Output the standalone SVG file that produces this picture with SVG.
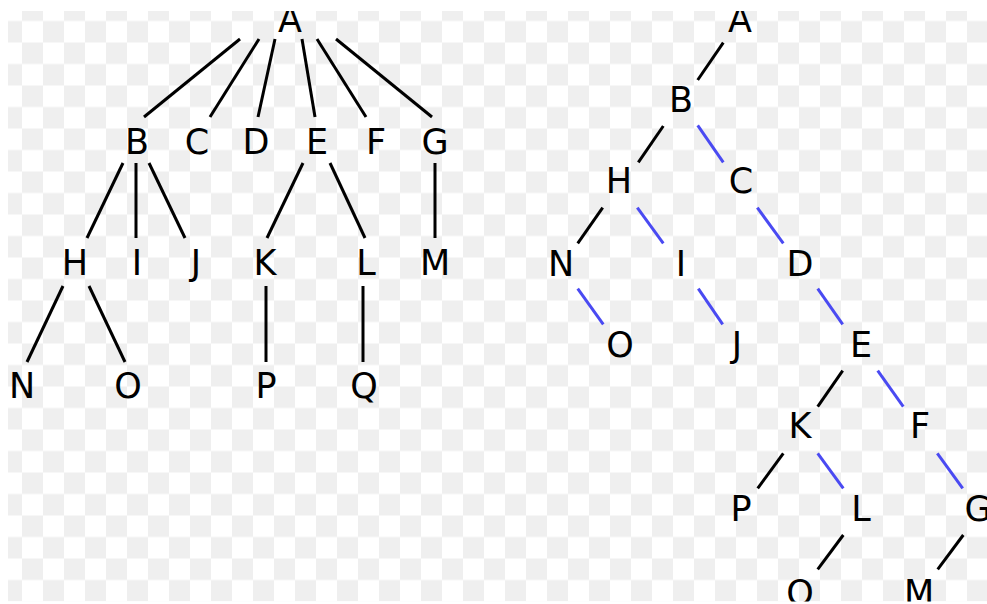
<svg xmlns="http://www.w3.org/2000/svg" width="987" height="604" viewBox="0 0 987 604">
  <defs>
    <!-- transparency checkerboard behind the drawing -->
    <pattern id="checker" patternUnits="userSpaceOnUse" x="1" y="-0.5" width="42" height="43">
      <rect x="0" y="0" width="42" height="43" fill="#ffffff"/>
      <rect x="21" y="0" width="21" height="21.5" fill="#efefef"/>
      <rect x="0" y="21.5" width="21" height="21.5" fill="#efefef"/>
    </pattern>
    <clipPath id="frame">
      <rect x="8" y="11" width="979" height="590.5"/>
    </clipPath>
    <style>
      text { font-family: "DejaVu Sans", "Liberation Sans", sans-serif; font-size: 35px; fill: #000; text-anchor: middle; }
      .edge { stroke: #000; stroke-width: 3; fill: none; }
      .sib { stroke: #4a4af2; stroke-width: 3; fill: none; }
    </style>
  </defs>

  <rect width="987" height="604" fill="#ffffff"/>
  <g clip-path="url(#frame)">
    <rect x="8" y="11" width="979" height="590.5" fill="url(#checker)"/>

    <!-- general tree: connectors -->
    <g id="tree-edges">
      <line class="edge" x1="240" y1="39" x2="144" y2="117"/>
      <line class="edge" x1="259" y1="39" x2="210" y2="117"/>
      <line class="edge" x1="275" y1="39" x2="258" y2="117"/>
      <line class="edge" x1="302" y1="39" x2="315" y2="117"/>
      <line class="edge" x1="317" y1="39" x2="366" y2="117"/>
      <line class="edge" x1="336" y1="39" x2="432" y2="117"/>
      <line class="edge" x1="123" y1="163" x2="87" y2="238"/>
      <line class="edge" x1="136" y1="163" x2="136" y2="238"/>
      <line class="edge" x1="149" y1="163" x2="185" y2="238"/>
      <line class="edge" x1="303" y1="163" x2="267" y2="238"/>
      <line class="edge" x1="330" y1="163" x2="365" y2="238"/>
      <line class="edge" x1="435" y1="163" x2="435" y2="238"/>
      <line class="edge" x1="63" y1="286" x2="27" y2="362"/>
      <line class="edge" x1="89" y1="286" x2="125" y2="362"/>
      <line class="edge" x1="266" y1="286" x2="266" y2="362"/>
      <line class="edge" x1="363" y1="286" x2="363" y2="362"/>
    </g>

    <!-- general tree: nodes -->
    <g id="t-A"><text x="290" y="32">A</text></g>
    <g id="t-B"><text x="137" y="154">B</text></g>
    <g id="t-C"><text x="197" y="154">C</text></g>
    <g id="t-D"><text x="256" y="154">D</text></g>
    <g id="t-E"><text x="317" y="154">E</text></g>
    <g id="t-F"><text x="376" y="154">F</text></g>
    <g id="t-G"><text x="435" y="154">G</text></g>
    <g id="t-H"><text x="75" y="275">H</text></g>
    <g id="t-I"><text x="137" y="275">I</text></g>
    <g id="t-J"><text x="196" y="275">J</text></g>
    <g id="t-K"><text x="265" y="275">K</text></g>
    <g id="t-L"><text x="366" y="275">L</text></g>
    <g id="t-M"><text x="435" y="275">M</text></g>
    <g id="t-N"><text x="22" y="398">N</text></g>
    <g id="t-O"><text x="128" y="398">O</text></g>
    <g id="t-P"><text x="266" y="398">P</text></g>
    <g id="t-Q"><text x="364" y="398">Q</text></g>

    <!-- binary (left-child / right-sibling) tree: connectors -->
    <g id="bin-edges">
      <line class="edge" x1="723.3" y1="42.7" x2="697.7" y2="80"/>
      <line class="edge" x1="663.3" y1="126" x2="638.3" y2="162.3"/>
      <line class="sib" x1="697.7" y1="125.3" x2="723.3" y2="162.3"/>
      <line class="edge" x1="602.7" y1="207.7" x2="577.7" y2="243.3"/>
      <line class="sib" x1="637.3" y1="207.7" x2="663.3" y2="243.3"/>
      <line class="sib" x1="757.3" y1="207.7" x2="783.3" y2="243.3"/>
      <line class="sib" x1="577.7" y1="288.7" x2="603.3" y2="324.3"/>
      <line class="sib" x1="698.3" y1="288.7" x2="722.7" y2="324.3"/>
      <line class="sib" x1="817.7" y1="288.7" x2="842.7" y2="324.3"/>
      <line class="edge" x1="842.7" y1="370.7" x2="817.7" y2="406.7"/>
      <line class="sib" x1="877.7" y1="370.7" x2="903.3" y2="406.7"/>
      <line class="edge" x1="783.3" y1="453.3" x2="757.7" y2="488.3"/>
      <line class="sib" x1="817.7" y1="453.3" x2="843.3" y2="488.3"/>
      <line class="sib" x1="937.3" y1="453.3" x2="962.7" y2="488.3"/>
      <line class="edge" x1="843.3" y1="535" x2="817.7" y2="569.3"/>
      <line class="edge" x1="963.3" y1="535" x2="937.7" y2="569.3"/>
    </g>

    <!-- binary tree: nodes -->
    <g id="b-A"><text x="740" y="32">A</text></g>
    <g id="b-B"><text x="681" y="112">B</text></g>
    <g id="b-H"><text x="619" y="193">H</text></g>
    <g id="b-C"><text x="741" y="193">C</text></g>
    <g id="b-N"><text x="561" y="276">N</text></g>
    <g id="b-I"><text x="681" y="276">I</text></g>
    <g id="b-D"><text x="800" y="276">D</text></g>
    <g id="b-O"><text x="620" y="357">O</text></g>
    <g id="b-J"><text x="737" y="357">J</text></g>
    <g id="b-E"><text x="861" y="357">E</text></g>
    <g id="b-K"><text x="800" y="438">K</text></g>
    <g id="b-F"><text x="920" y="438">F</text></g>
    <g id="b-P"><text x="741" y="521">P</text></g>
    <g id="b-L"><text x="861" y="521">L</text></g>
    <g id="b-G"><text x="978" y="521">G</text></g>
    <g id="b-Q"><text x="800" y="605">Q</text></g>
    <g id="b-M"><text x="919" y="605">M</text></g>
  </g>
</svg>
